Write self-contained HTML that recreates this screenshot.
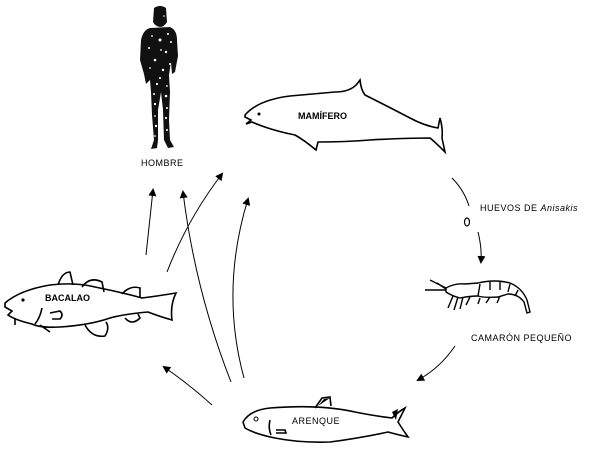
<!DOCTYPE html>
<html><head><meta charset="utf-8"><style>
html,body{margin:0;padding:0;background:#fff}
svg{display:block}
text{font-family:"Liberation Sans",sans-serif;fill:#000}
</style></head><body>
<svg width="600" height="451" viewBox="0 0 600 451" xmlns="http://www.w3.org/2000/svg">
<defs>
<marker id="ah" markerWidth="8" markerHeight="8" refX="6" refY="4" orient="auto" markerUnits="userSpaceOnUse">
<path d="M0,0 L8,4 L0,8 Z" fill="#000"/>
</marker>
</defs>
<!-- Human -->
<g fill="#111">
<path d="M154,8 Q160,4 166,8 L167,22 Q164,27 160,27 Q155,26 153,22 Z"/>
<path d="M150,28 L170,27 Q177,30 177,40 L178,56 L175,72 L172,74 L171,62 L169,75 L170,92 L169,120 L170,140 L174,147 L168,148 L164,140 L163,110 L161,92 L158,110 L158,140 L157,148 L151,149 L154,140 L152,115 L151,92 L150,80 L146,84 L144,74 L140,60 L141,40 Q143,30 150,28 Z"/>
</g>
<g fill="#fff">
<circle cx="160" cy="40" r="1.5"/><circle cx="166" cy="52" r="1.2"/><circle cx="155" cy="60" r="1.3"/>
<circle cx="163" cy="70" r="1.2"/><circle cx="157" cy="84" r="1.1"/><circle cx="166" cy="96" r="1.3"/>
<circle cx="155" cy="104" r="1.2"/><circle cx="166" cy="118" r="1.1"/><circle cx="156" cy="126" r="1.2"/>
<circle cx="149" cy="48" r="1"/><circle cx="171" cy="42" r="1"/>
<circle cx="168" cy="34" r="1"/><circle cx="152" cy="36" r="0.9"/><circle cx="161" cy="50" r="0.9"/>
<circle cx="170" cy="64" r="1"/><circle cx="150" cy="68" r="0.9"/><circle cx="160" cy="78" r="1"/>
<circle cx="167" cy="86" r="0.9"/><circle cx="154" cy="94" r="1"/><circle cx="167" cy="108" r="1"/>
<circle cx="155" cy="116" r="0.9"/><circle cx="167" cy="130" r="1"/><circle cx="155" cy="136" r="0.9"/>
<circle cx="164" cy="16" r="0.8"/>
</g>
<text x="141" y="166" font-size="9" letter-spacing="0.5">HOMBRE</text>
<!-- Whale -->
<path d="M245,115 Q258,100 290,96 L335,92 Q350,92 357,84 L360,80 Q361,90 365,95 Q385,105 410,118 Q425,126 438,128 L440,118 Q443,128 442,138 L445,152 Q435,142 430,138 Q405,138 370,140 Q345,142 318,142 L316,150 Q304,140 295,135 Q270,130 252,122 L246,124 L251,120 L245,117 Z" fill="none" stroke="#000" stroke-width="1.6"/>
<circle cx="259" cy="114" r="1.5" fill="#000"/>
<text x="298" y="119" font-size="9" font-weight="bold">MAMÍFERO</text>
<!-- whale to eggs -->
<path d="M452,178 Q464,190 469,206" fill="none" stroke="#000" stroke-width="1"/>
<text x="480" y="211" font-size="9" letter-spacing="0.5">HUEVOS DE <tspan font-style="italic">Anisakis</tspan></text>
<ellipse cx="467" cy="222" rx="2.5" ry="4" fill="none" stroke="#000" stroke-width="1.2"/>
<path d="M478,232 Q482,248 481,262" fill="none" stroke="#000" stroke-width="1" marker-end="url(#ah)"/>
<!-- Shrimp -->
<g fill="none" stroke="#000" stroke-width="1.4">
<path d="M446,288 Q455,283 465,284 L478,283 Q495,279 510,283 Q522,288 527,300 L530,312 L527,313 L524,302 Q518,294 508,294 L498,297 Q485,298 478,296 Q470,296 460,298 Q452,296 446,292 Z"/>
<path d="M480,284 L478,296 M490,282 L490,290 M500,281 L500,290 M510,284 L508,292 M518,290 L515,296"/>
<path d="M446,290 L425,290 M446,288 L430,280 M446,289 L437,283"/>
<path d="M453,296 L448,308 M458,297 L454,310 M463,297 L460,309 M470,297 L466,305 M480,298 L478,304 M490,297 L486,303 M500,296 L497,303"/>
</g>
<text x="471" y="341" font-size="9" letter-spacing="0.5">CAMARÓN PEQUEÑO</text>
<path d="M455,346 Q440,368 418,380" fill="none" stroke="#000" stroke-width="1" marker-end="url(#ah)"/>
<!-- Herring -->
<g fill="none" stroke="#000" stroke-width="1.6">
<path d="M243,422 Q250,410 270,408 Q320,404 355,412 Q375,416 392,418 Q398,412 405,408 Q400,418 398,422 Q403,430 408,437 Q395,434 388,432 Q360,438 330,442 Q300,443 275,438 Q255,434 245,428 Z"/>
<path d="M315,408 L322,398 L330,397 L331,406"/>
<path d="M270,420 Q268,428 271,435"/>
<path d="M276,430 L285,430 L286,433 L276,433"/>
</g>
<circle cx="256" cy="419" r="2" fill="none" stroke="#000"/>
<path d="M392,412 L398,409 L396,420 Z" fill="#000"/>
<path d="M318,406 L324,399 L330,398 Z" fill="#000"/>
<text x="292" y="424" font-size="9" letter-spacing="0.5">ARENQUE</text>
<!-- Cod -->
<g fill="none" stroke="#000" stroke-width="1.6">
<path d="M5,303 Q20,290 50,285 Q75,282 95,287 Q120,292 142,298 Q158,296 176,293 Q170,305 172,320 Q158,316 148,312 Q125,314 110,318 Q90,325 60,327 Q40,328 32,324 Q15,320 8,315 L12,311 L5,307 Z"/>
<path d="M58,285 Q62,272 70,272 L73,285"/>
<path d="M82,287 Q90,276 102,282 L104,292"/>
<path d="M122,294 Q130,285 140,288 L140,298"/>
<path d="M85,325 Q92,338 105,336 Q110,328 106,322"/>
<path d="M125,318 Q132,326 140,318 L138,314"/>
<path d="M42,308 Q40,318 35,324"/>
<path d="M50,313 L60,311 Q64,315 60,319 L52,319"/>
<path d="M15,318 L15,325 M40,325 L50,332"/>
</g>
<circle cx="23" cy="300" r="1.6" fill="#000"/>
<text x="45" y="301" font-size="9" font-weight="bold">BACALAO</text>
<!-- arrows -->
<g fill="none" stroke="#000" stroke-width="1">
<path d="M146,255 L153,190" marker-end="url(#ah)"/>
<path d="M167,272 Q188,218 222,174" marker-end="url(#ah)"/>
<path d="M231,382 Q195,290 183,192" marker-end="url(#ah)"/>
<path d="M244,378 Q220,290 248,199" marker-end="url(#ah)"/>
<path d="M212,405 Q190,385 164,367" marker-end="url(#ah)"/>
</g>
</svg>
</body></html>
